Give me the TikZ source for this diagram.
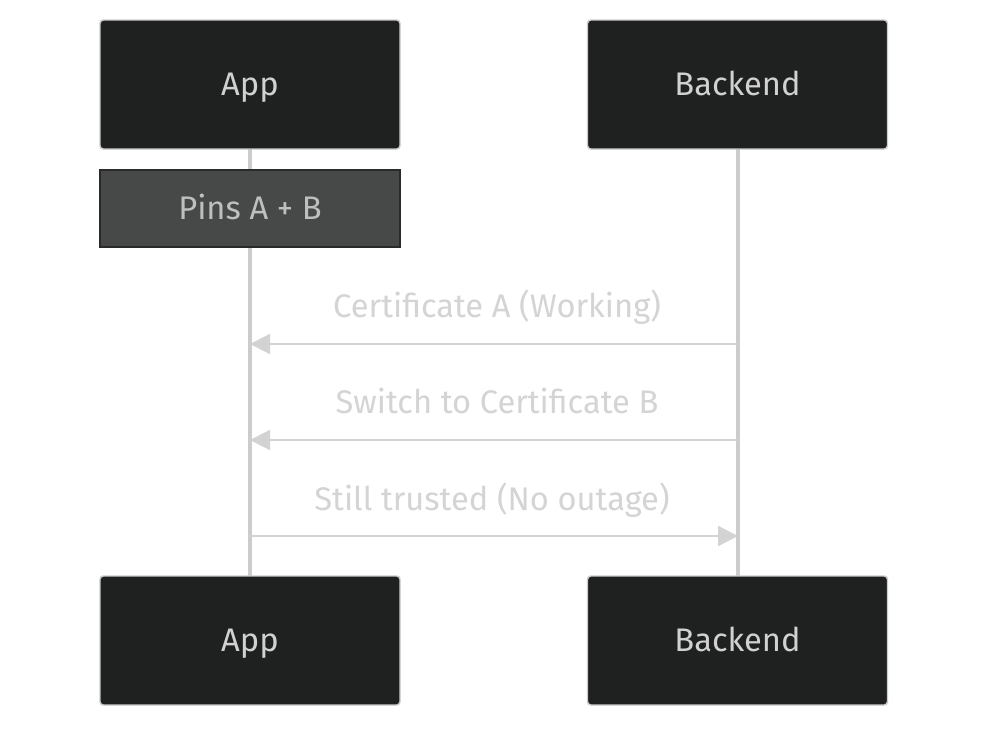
\documentclass[tikz,border=0pt]{standalone}
\usepackage{fontspec}
\setmainfont{Fira Sans}
\usetikzlibrary{arrows.meta}

\definecolor{actorfill}{HTML}{1F2020}
\definecolor{actorline}{HTML}{CCCCCC}
\definecolor{notefill}{HTML}{474949}
\definecolor{noteline}{HTML}{2A2A2A}
\definecolor{msgline}{HTML}{D3D3D3}
\definecolor{msgtext}{HTML}{D4D4D4}

\tikzset{
  actor/.style={draw=actorline, line width=1.1pt, fill=actorfill, rounded corners=2.5pt,
    minimum width=225pt, minimum height=96.75pt, inner sep=0pt,
    text height=17pt, text depth=0pt,
    text=actorline!90!white, font=\fontsize{24.5}{28}\selectfont},
  note/.style={draw=noteline, line width=0.9pt, fill=notefill,
    minimum width=225pt, minimum height=57.75pt, inner sep=0pt,
    text height=17pt, text depth=0pt,
    text=msgtext!90!black, font=\fontsize{24.5}{28}\selectfont},
  lifeline/.style={draw=actorline, line width=2.4pt},
  msg/.style={draw=msgline, line width=1.7pt, -{Triangle[length=15pt, width=15pt]}},
  msglabel/.style={anchor=base, inner sep=0pt, text=msgtext,
    font=\fontsize{24.5}{28}\selectfont}
}

\begin{document}
\begin{tikzpicture}[x=0.75pt, y=-0.75pt]
  \fill[white] (0,0) rectangle (988,728);
  \useasboundingbox (0,0) rectangle (988,728);
  % Lebenslinien
  \coordinate (appTop) at (250,149);
  \coordinate (appBot) at (250,576);
  \coordinate (beTop) at (738,149);
  \coordinate (beBot) at (738,576);
  \draw[lifeline] (appTop) -- (appBot);
  \draw[lifeline] (beTop) -- (beBot);
  % Teilnehmer oben
  \node[actor] (app) at (250,84.5) {App};
  \node[actor] (backend) at (737.5,84.5) {Backend};
  % Teilnehmer unten
  \node[actor] (app2) at (250,640.5) {App};
  \node[actor] (backend2) at (737.5,640.5) {Backend};
  % Notiz
  \node[note] (pins) at (250,208.5) {Pins A + B};
  % Nachrichten
  \coordinate (a1) at (250,344);
  \coordinate (b1) at (738,344);
  \coordinate (a2) at (250,440);
  \coordinate (b2) at (738,440);
  \coordinate (a3) at (250,536);
  \coordinate (b3) at (738,536);
  \draw[msg] (b1) -- (a1);
  \draw[msg] (b2) -- (a2);
  \draw[msg] (a3) -- (b3);
  \node[msglabel] (m1) at (497,317) {Certificate A (Working)};
  \node[msglabel] (m2) at (497,413) {Switch to Certificate B};
  \node[msglabel] (m3) at (492,510) {Still trusted (No outage)};
\end{tikzpicture}
\end{document}
